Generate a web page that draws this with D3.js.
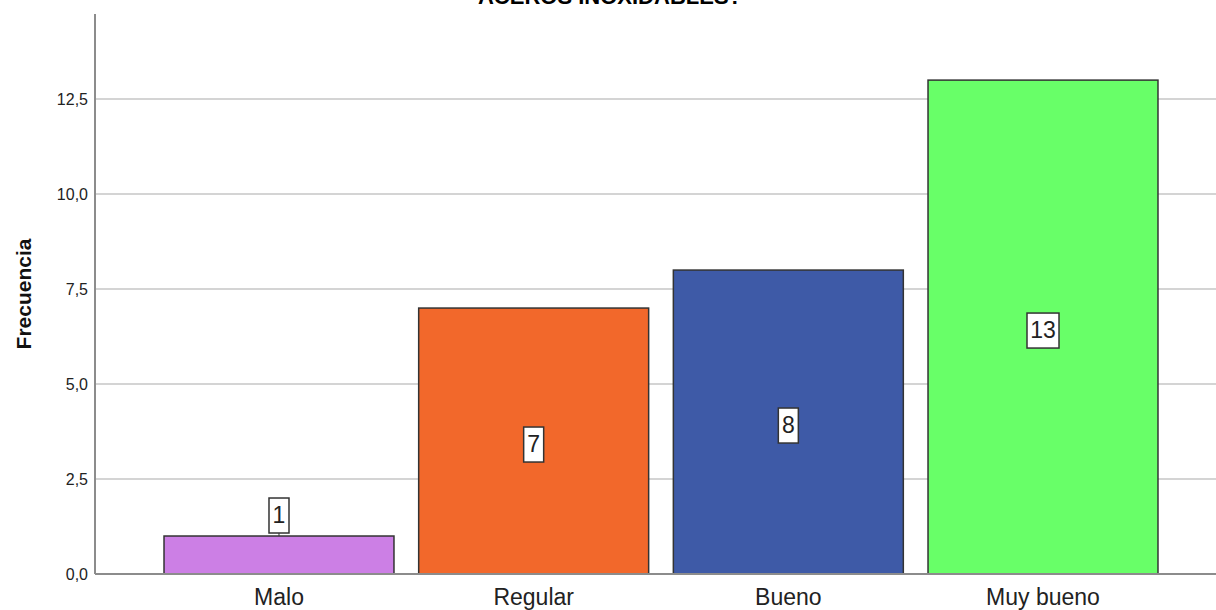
<!DOCTYPE html>
<html><head><meta charset="utf-8">
<script src="https://cdn.jsdelivr.net/npm/d3@7"></script>
<style>body{margin:0;background:#fff}svg{display:block}</style>
</head><body>
<svg id="c" width="1216" height="610"></svg>
<script>
const categories = ["Malo", "Regular", "Bueno", "Muy bueno"];
const values = [1, 7, 8, 13];
const colors = ["#cc7fe5", "#f2682b", "#3e5aa7", "#68ff68"];
const yTicks = [0, 2.5, 5, 7.5, 10, 12.5];
const title = "ACEROS INOXIDABLES?";
const yLabel = "Frecuencia";

const svg = d3.select("#c");
const font = "Arial, 'Liberation Sans', sans-serif";
const x = d3.scaleBand().domain(categories).range([95, 1227]).paddingInner(0.097).paddingOuter(0.271);
const y = d3.scaleLinear().domain([0, 14.74]).range([574, 14]);
const fmt = d => d3.format(".1f")(d).replace(".", ",");

// title (cut off at top, as in the reference)
svg.append("text").attr("x", 610).attr("y", 4).attr("text-anchor", "middle")
  .attr("font-family", font).attr("font-weight", "bold").attr("font-size", 22).text(title);

// gridlines
svg.append("g").selectAll("line").data(yTicks.filter(d => d > 0)).join("line")
  .attr("x1", 95).attr("x2", 1216).attr("y1", d => y(d)).attr("y2", d => y(d))
  .attr("stroke", "#d4d4d4").attr("stroke-width", 2);

// y axis
const ya = svg.append("g").attr("transform", "translate(95,0)")
  .call(d3.axisLeft(y).tickValues(yTicks).tickFormat(fmt).tickSize(0).tickPadding(7));
ya.select(".domain").remove();
ya.selectAll("text").attr("font-family", font).attr("font-size", 16).attr("fill", "#222");
svg.append("line").attr("x1", 95).attr("x2", 95).attr("y1", y.range()[1]).attr("y2", 574)
  .attr("stroke", "#8c8c8c").attr("stroke-width", 2);

// bars
svg.append("g").selectAll("rect").data(values).join("rect")
  .attr("x", (d, i) => x(categories[i])).attr("width", x.bandwidth())
  .attr("y", d => y(d)).attr("height", d => y(0) - y(d))
  .attr("fill", (d, i) => colors[i]).attr("stroke", "#333").attr("stroke-width", 1.5);

// x axis
svg.append("line").attr("x1", 95).attr("x2", 1216).attr("y1", 574).attr("y2", 574)
  .attr("stroke", "#8c8c8c").attr("stroke-width", 2);
const xa = svg.append("g").attr("transform", "translate(0,574)")
  .call(d3.axisBottom(x).tickSize(0).tickPadding(15));
xa.select(".domain").remove();
xa.selectAll("text").attr("font-family", font).attr("font-size", 23).attr("fill", "#222");

// value labels
const lab = svg.append("g").selectAll("g").data(values).join("g")
  .attr("transform", (d, i) => {
    const cx = x(categories[i]) + x.bandwidth() / 2;
    const inside = (y(0) - y(d)) > 60;
    const cy = inside ? (y(d) + y(0)) / 2 + 3 : y(d) - 21;
    return `translate(${cx},${cy})`;
  });
lab.each(function(d) {
  const g = d3.select(this);
  const w = String(d).length * 12 + 8;
  if ((y(0) - y(d)) <= 60) {
    g.append("line").attr("x1", 0).attr("x2", 0).attr("y1", 17).attr("y2", 21).attr("stroke", "#333");
  }
  g.append("rect").attr("x", -w / 2).attr("y", -17).attr("width", w).attr("height", 35)
    .attr("fill", "#fff").attr("stroke", "#333").attr("stroke-width", 1.5);
  g.append("text").attr("text-anchor", "middle").attr("y", 8)
    .attr("font-family", font).attr("font-size", 23).attr("fill", "#222").text(d);
});

// y label
svg.append("text").attr("transform", "translate(31,294) rotate(-90)").attr("text-anchor", "middle")
  .attr("font-family", font).attr("font-weight", "bold").attr("font-size", 21).attr("fill", "#111").text(yLabel);
</script>
</body></html>
